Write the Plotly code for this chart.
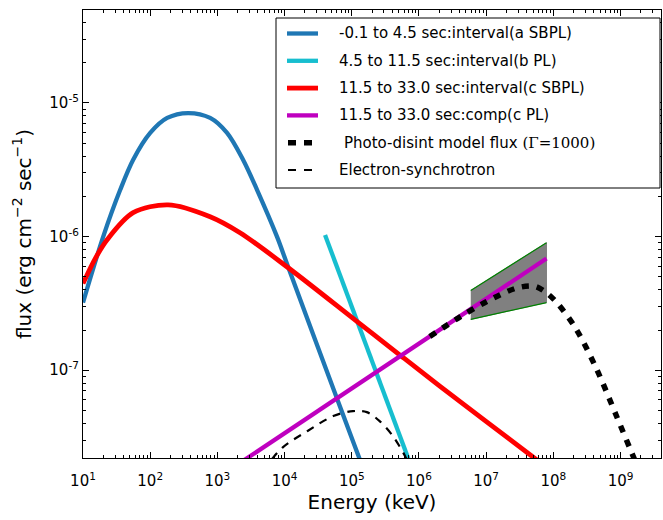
import plotly.graph_objects as go

# ---------------- data ----------------
blue_E = [10, 20.0, 35.8, 55.8, 100, 179, 367, 780, 1393, 2410, 3890, 7710, 1.12e4, 6.65e4, 1.56e5]
blue_F = [3.21e-7, 1.0e-6, 2.24e-6, 3.76e-6, 5.97e-6, 7.73e-6, 8.41e-6, 7.73e-6, 5.97e-6,
          3.76e-6, 2.24e-6, 1.0e-6, 6.0e-7, 5.38e-8, 1.71e-8]

cyan_E = [4.0e4, 8.0e5]
cyan_F = [1.03e-6, 1.8e-8]

red_E = [10, 15.2, 23.0, 55.8, 185, 780, 2170, 1.12e4, 1.19e5, 5.74e5, 2.04e6, 5.62e7, 1.0e8]
red_F = [4.45e-7, 6.85e-7, 9.51e-7, 1.51e-6, 1.73e-6, 1.41e-6, 1.07e-6, 5.87e-7, 2.32e-7,
         1.25e-7, 7.60e-8, 2.14e-8, 1.73e-8]

mag_E = [2.0e3, 7.9e7]
mag_F = [1.97e-8, 6.85e-7]

bow_E = [5.9e6, 7.9e7]
bow_upper = [3.95e-7, 9.0e-7]
bow_lower = [2.40e-7, 3.21e-7]

pd_E = [1.45e6, 4.0e6, 1.02e7, 2.84e7, 5.2e7, 7.4e7, 1.12e8, 2.2e8, 4.4e8, 8.7e8, 1.6e9, 1.9e9]
pd_F = [1.79e-7, 2.49e-7, 3.27e-7, 4.12e-7, 4.25e-7, 3.89e-7, 3.22e-7, 2.02e-7, 1.02e-7,
        4.54e-8, 2.17e-8, 1.76e-8]

es_E = [4.6e3, 6.1e3, 9.5e3, 2.2e4, 5.3e4, 1.04e5, 1.67e5, 2.6e5, 4.1e5, 6.2e5, 7.3e5]
es_F = [1.78e-8, 2.09e-8, 2.66e-8, 3.51e-8, 4.54e-8, 4.94e-8, 4.86e-8, 4.16e-8, 3.21e-8,
        2.28e-8, 1.9e-8]

legend_labels = [
    "-0.1 to 4.5 sec:interval(a SBPL)",
    "4.5 to 11.5 sec:interval(b PL)",
    "11.5 to 33.0 sec:interval(c SBPL)",
    "11.5 to 33.0 sec:comp(c PL)",
    "Photo-disint model flux <span style=\"font-family:'DejaVu Serif';font-size:15px\">(Γ=1000)</span>",
    "Electron-synchrotron",
]

x_tick_exp = list(range(1, 10))
y_tick_exp = [-7, -6, -5]

# ---------------- styles ----------------
BLUE = "#1f77b4"
CYAN = "#17becf"
RED = "#ff0000"
MAG = "#bf00bf"
FONT = "DejaVu Sans"

W, H = 663, 520
ML, MR, MT, MB = 83, 2, 10, 62
PW, PH = W - ML - MR, H - MT - MB


def px(p):
    return (p - ML) / PW


def py(p):
    return (H - MB - p) / PH


fig = go.Figure()

# bow-tie (uncertainty region)
fig.add_trace(go.Scatter(
    x=bow_E + bow_E[::-1], y=bow_upper + bow_lower[::-1],
    fill="toself", fillcolor="#808080", mode="lines",
    line=dict(color="#808080", width=1), showlegend=False, hoverinfo="skip"))
fig.add_trace(go.Scatter(x=bow_E, y=bow_upper, mode="lines",
                         line=dict(color="#008000", width=1.2), showlegend=False))
fig.add_trace(go.Scatter(x=bow_E, y=bow_lower, mode="lines",
                         line=dict(color="#008000", width=1.2), showlegend=False))

styles = [
    dict(color=BLUE, width=4.3),
    dict(color=CYAN, width=4.3),
    dict(color=RED, width=4.8),
    dict(color=MAG, width=4.3),
    dict(color="black", width=5.5, dash="7px,8px"),
    dict(color="black", width=2.2, dash="8px,7px"),
]

series = [(blue_E, blue_F, "spline"), (cyan_E, cyan_F, "linear"), (red_E, red_F, "spline"),
          (mag_E, mag_F, "linear"), (pd_E, pd_F, "spline"), (es_E, es_F, "spline")]

for (xs, ys, shp), st, lab in zip(series, styles, legend_labels):
    fig.add_trace(go.Scatter(x=xs, y=ys, mode="lines", name=lab,
                             line=dict(shape=shp, smoothing=0.9, **st), showlegend=False))

# ---------------- manual legend ----------------
shapes = [dict(type="rect", xref="paper", yref="paper", x0=px(276), x1=px(660),
               y0=py(188), y1=py(18), line=dict(color="black", width=1),
               fillcolor="white", layer="above")]
annotations = []
row0, step = 33.5, 27.3
for i, (st, lab) in enumerate(zip(styles, legend_labels)):
    yy = row0 + i * step
    dash = "solid" if i < 4 else "8px,8px"
    shapes.append(dict(type="line", xref="paper", yref="paper",
                       x0=px(287 if i < 4 else 288), x1=px(318),
                       y0=py(yy), y1=py(yy),
                       line=dict(color=st["color"], width=st["width"], dash=dash),
                       layer="above"))
    annotations.append(dict(xref="paper", yref="paper", x=px(337 if i != 4 else 342), y=py(yy),
                            text=lab, showarrow=False, xanchor="left", yanchor="middle",
                            font=dict(family=FONT, size=15, color="black")))

minor_x = [k * 10 ** n for n in range(1, 10) for k in range(2, 10)]
minor_y = [k * 10.0 ** n for n in range(-9, -4) for k in range(2, 10)]

axis_common = dict(type="log", showgrid=False, zeroline=False, showline=True,
                   linecolor="black", linewidth=1.2, mirror="allticks",
                   ticks="inside", ticklen=6, tickwidth=1, tickcolor="black",
                   automargin=False,
                   tickfont=dict(family=FONT, size=15, color="black"))

fig.update_layout(
    width=W, height=H,
    margin=dict(l=ML, r=MR, t=MT, b=MB, autoexpand=False),
    paper_bgcolor="white", plot_bgcolor="white",
    font=dict(family=FONT, color="black"),
    showlegend=False,
    shapes=shapes, annotations=annotations,
    xaxis=dict(range=[1, 9.602],
               tickmode="array", tickvals=[10 ** e for e in x_tick_exp],
               ticktext=[f"10<sup>{e}</sup>" for e in x_tick_exp],
               ticklabelstandoff=9,
               minor=dict(tickmode="array", tickvals=minor_x, ticks="inside",
                          ticklen=3, tickcolor="black", showgrid=False),
               title=dict(text="Energy (keV)", font=dict(family=FONT, size=20), standoff=0),
               **axis_common),
    yaxis=dict(range=[-7.657, -4.304],
               tickmode="array", tickvals=[10.0 ** e for e in y_tick_exp],
               ticktext=[f"10<sup>{e}</sup>" for e in y_tick_exp],
               minor=dict(tickmode="array", tickvals=minor_y, ticks="inside",
                          ticklen=3, tickcolor="black", showgrid=False),
               title=dict(text="flux (erg cm<sup>−2</sup> sec<sup>−1</sup>)",
                          font=dict(family=FONT, size=20), standoff=12),
               **axis_common),
)

fig.write_html("out.html", config={"displayModeBar": False},
               post_script="document.body.style.margin='0';document.body.style.overflow='hidden';")
